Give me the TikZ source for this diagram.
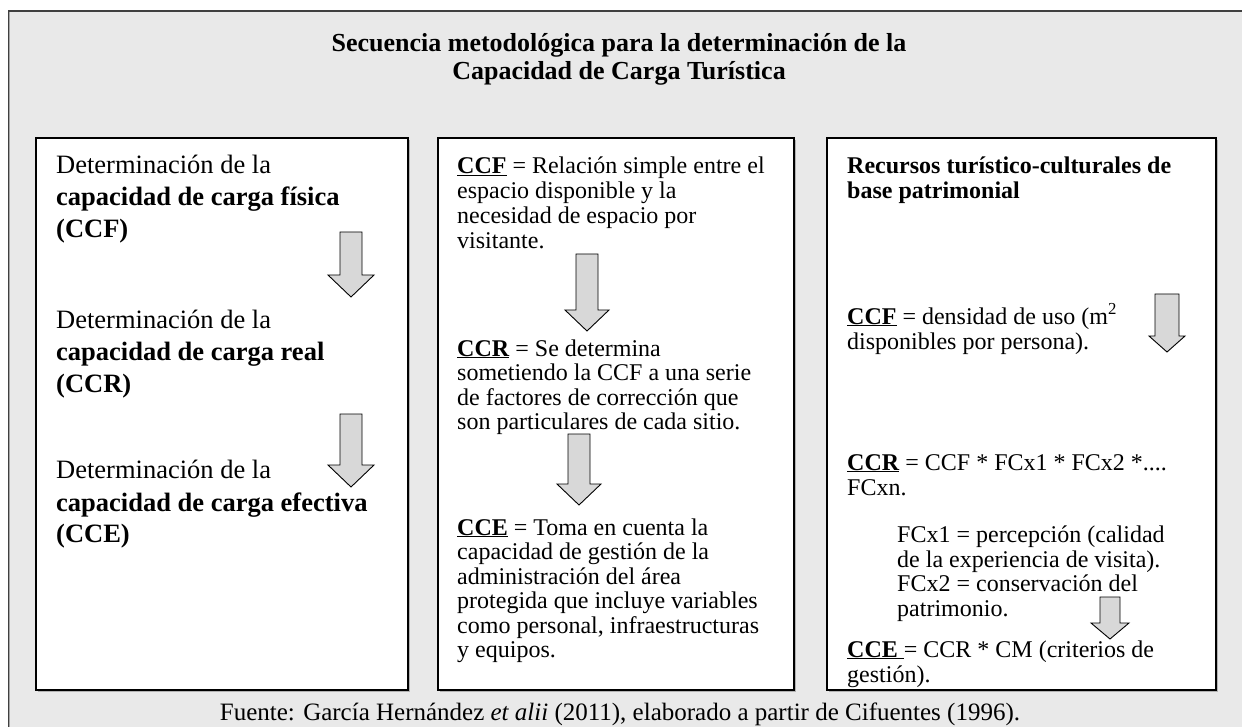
\documentclass[tikz,border=0pt]{standalone}
\usepackage{fontspec}
\setmainfont{Liberation Serif}
\definecolor{bgc}{HTML}{E9E9E9}
\definecolor{arrfill}{HTML}{D8D8D8}
\newcommand{\garrow}[6]{\draw[arr] ({#1-#4},#2) -- ({#1+#4},#2) -- ({#1+#4},{#3-#6}) -- ({#1+#5},{#3-#6}) -- (#1,#3) -- ({#1-#5},{#3-#6}) -- ({#1-#4},{#3-#6}) -- cycle;}
\newcommand{\pbox}[5]{%
  \draw[gray!60, line width=1.6pt] ({#2+2},{#5+1.2}) -- ({#4+1.2},{#5+1.2}) -- ({#4+1.2},{#3+2});
  \draw[fill=white, line width=1.2pt] (#2,#3) rectangle (#4,#5);
  \coordinate (#1) at (#2,#3);}
\begin{document}
\begin{tikzpicture}[x=1pt,y=-1pt,
  arr/.style={fill=arrfill, draw=black, line width=0.9pt, line join=miter},
  lb/.style={anchor=base west, inner sep=0pt, font=\fontsize{26.5}{30}\selectfont},
  ls/.style={anchor=base west, inner sep=0pt, font=\fontsize{24}{25}\selectfont},
  ttl/.style={anchor=base, inner sep=0pt, font=\fontsize{26}{28}\selectfont\bfseries},
  foot/.style={anchor=base, inner sep=0pt, font=\fontsize{25}{26}\selectfont}]
\useasboundingbox (0,0) rectangle (1242,727);
\fill[bgc] (9,11) rectangle (1260,740);
\draw[black!75, line width=1.2pt] (9,740) -- (9,11) -- (1260,11);
\draw[gray!70, line width=0.8pt] (9,740) -- (9,12);
% title
\node[ttl] (ti1) at (619,52) {Secuencia metodológica para la determinación de la};
\node[ttl] (ti2) at (619,80) {Capacidad de Carga Turística};
% boxes
\pbox{box1}{36}{138}{408}{690}
\pbox{box2}{438}{138}{794}{690}
\pbox{box3}{827}{138}{1216}{690}
% box 1
\node[lb] (a1) at (56,174) {Determinación de la};
\node[lb] (a2) at (56,206) {\textbf{capacidad de carga física}};
\node[lb] (a3) at (56,238) {\textbf{(CCF)}};
\node[lb] (a4) at (56,328) {Determinación de la};
\node[lb] (a5) at (56,360) {\textbf{capacidad de carga real}};
\node[lb] (a6) at (56,392) {\textbf{(CCR)}};
\node[lb] (a7) at (56,478) {Determinación de la};
\node[lb] (a8) at (56,511) {\textbf{capacidad de carga efectiva}};
\node[lb] (a9) at (56,542) {\textbf{(CCE)}};
\garrow{351}{232}{297}{11}{23}{22}
\garrow{351}{414}{487}{11}{23}{22}
% box 2
\node[ls] (b1) at (457,174) {\underline{\textbf{CCF}} = Relación simple entre el};
\node[ls] (b2) at (457,199) {espacio disponible y la};
\node[ls] (b3) at (457,224) {necesidad de espacio por};
\node[ls] (b4) at (457,249) {visitante.};
\node[ls] (b5) at (457,356) {\underline{\textbf{CCR}} = Se determina};
\node[ls] (b6) at (457,380) {sometiendo la CCF a una serie};
\node[ls] (b7) at (457,405) {de factores de corrección que};
\node[ls] (b8) at (457,429) {son particulares de cada sitio.};
\node[ls] (b9) at (457,535) {\underline{\textbf{CCE}} = Toma en cuenta la};
\node[ls] (b10) at (457,559) {capacidad de gestión de la};
\node[ls] (b11) at (457,584) {administración del área};
\node[ls] (b12) at (457,608) {protegida que incluye variables};
\node[ls] (b13) at (457,633) {como personal, infraestructuras};
\node[ls] (b14) at (457,657) {y equipos.};
\garrow{587}{254}{331}{11}{22}{21}
\garrow{579}{434}{505}{11}{22}{21}
% box 3
\node[ls] (c1) at (847,174) {\textbf{Recursos turístico-culturales de}};
\node[ls] (c2) at (847,199) {\textbf{base patrimonial}};
\node[ls] (c3) at (847,324) {\underline{\textbf{CCF}} = densidad de uso (m\textsuperscript{2}};
\node[ls] (c4) at (847,349) {disponibles por persona).};
\node[ls] (c5) at (847,470) {\underline{\textbf{CCR}} = CCF * FCx1 * FCx2 *....};
\node[ls] (c6) at (847,495) {FCxn.};
\node[ls] (c7) at (897,542) {FCx1 = percepción (calidad};
\node[ls] (c8) at (897,567) {de la experiencia de visita).};
\node[ls] (c9) at (897,591) {FCx2 = conservación del};
\node[ls] (c10) at (897,616) {patrimonio.};
\node[ls] (c11) at (847,657) {\underline{\textbf{CCE}\ }= CCR * CM (criterios de};
\node[ls] (c12) at (847,682) {gestión).};
\garrow{1167}{294}{352}{12}{18}{16}
\garrow{1110}{597}{639}{10}{19}{16}
% footer
\node[foot] (ft) at (620,720) {Fuente: García Hernández \textit{et alii} (2011), elaborado a partir de Cifuentes (1996).};
\end{tikzpicture}
\end{document}
